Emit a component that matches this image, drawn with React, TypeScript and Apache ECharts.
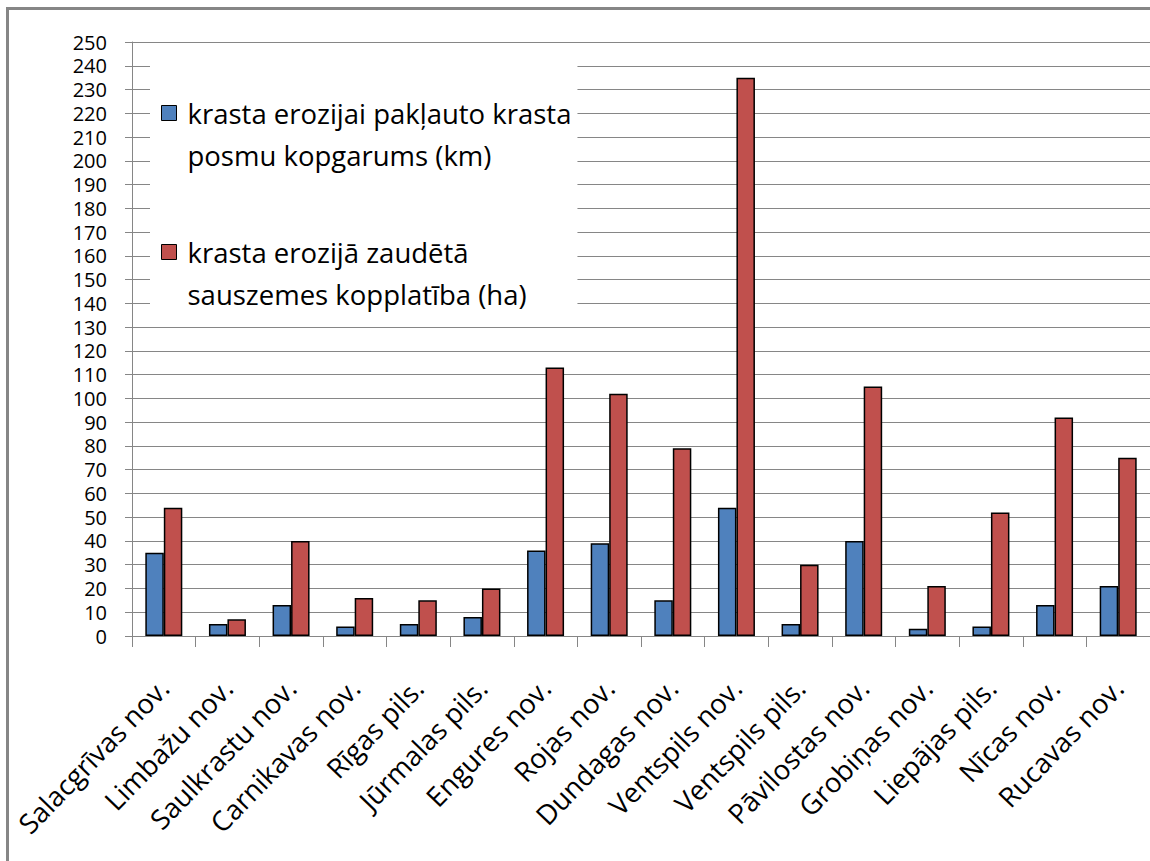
import React, { useEffect, useRef } from "react";
import * as echarts from "echarts";

const categories = [
  "Salacgrīvas nov.",
  "Limbažu nov.",
  "Saulkrastu nov.",
  "Carnikavas nov.",
  "Rīgas pils.",
  "Jūrmalas pils.",
  "Engures nov.",
  "Rojas nov.",
  "Dundagas nov.",
  "Ventspils nov.",
  "Ventspils pils.",
  "Pāvilostas nov.",
  "Grobiņas nov.",
  "Liepājas pils.",
  "Nīcas nov.",
  "Rucavas nov.",
];

const lengthKm = [35, 5, 13, 4, 5, 8, 36, 39, 15, 54, 5, 40, 3, 4, 13, 21];
const lostHa = [54, 7, 40, 16, 15, 20, 113, 102, 79, 235, 30, 105, 21, 52, 92, 75];

const seriesNames = [
  "krasta erozijai pakļauto krasta posmu kopgarums (km)",
  "krasta erozijā zaudētā sauszemes kopplatība (ha)",
];
const legendLines: Record<string, string[]> = {
  [seriesNames[0]]: ["krasta erozijai pakļauto krasta", "posmu kopgarums (km)"],
  [seriesNames[1]]: ["krasta erozijā zaudētā", "sauszemes kopplatība (ha)"],
};

const FONT = "'Open Sans', sans-serif";
const GRAY = "#868686";

export default function App() {
  const ref = useRef<HTMLDivElement>(null);
  useEffect(() => {
    if (!ref.current) return;
    const chart = echarts.init(ref.current, null, { renderer: "svg" });
    chart.setOption({
      animation: false,
      backgroundColor: "#ffffff",
      graphic: [
        {
          type: "rect",
          shape: { x: 7.5, y: 8.5, width: 1300, height: 1000 },
          style: { fill: "none", stroke: GRAY, lineWidth: 3 },
          silent: true,
          z: 100,
        },
      ],
      grid: { left: 132, top: 42, right: -6, bottom: 225 },
      legend: {
        orient: "vertical",
        left: 150,
        top: 50,
        padding: [0, 6, 0, 11],
        itemGap: 13,
        backgroundColor: "#ffffff",
        icon: "rect",
        itemWidth: 15,
        itemHeight: 15,
        itemStyle: { borderColor: "#000", borderWidth: 1 },
        formatter: (name: string) => "\n" + legendLines[name].join("\n"),
        textStyle: {
          fontFamily: FONT,
          fontSize: 27.5,
          lineHeight: 42,
          color: "#000",
          padding: [0, 0, 0, 6],
        },
        z: 10,
      },
      xAxis: {
        type: "category",
        data: categories,
        axisLine: { lineStyle: { color: GRAY, width: 1 } },
        axisTick: { show: true, length: 11, lineStyle: { color: GRAY } },
        axisLabel: {
          rotate: 46,
          margin: 47,
          interval: 0,
          fontFamily: FONT,
          fontSize: 27.5,
          lineHeight: 27.5,
          color: "#000",
        },
      },
      yAxis: {
        type: "value",
        min: 0,
        max: 250,
        interval: 10,
        axisLine: { show: true, lineStyle: { color: GRAY, width: 1 } },
        axisTick: { show: true, length: 7, lineStyle: { color: GRAY } },
        splitLine: { show: true, lineStyle: { color: GRAY, width: 1 } },
        axisLabel: {
          margin: 25,
          fontFamily: FONT,
          fontSize: 20,
          lineHeight: 20,
          color: "#000",
        },
      },
      series: [
        {
          name: seriesNames[0],
          type: "bar",
          data: lengthKm,
          barWidth: 18.5,
          barGap: "0%",
          itemStyle: { color: "#4F81BD", borderColor: "#000", borderWidth: 1.5 },
        },
        {
          name: seriesNames[1],
          type: "bar",
          data: lostHa,
          barWidth: 18.5,
          barGap: "0%",
          itemStyle: { color: "#C0504D", borderColor: "#000", borderWidth: 1.5 },
        },
      ],
    });
    return () => chart.dispose();
  }, []);
  return (
    <div
      ref={ref}
      style={{ position: "fixed", left: 0, top: 0, width: 1150, height: 861 }}
    />
  );
}
